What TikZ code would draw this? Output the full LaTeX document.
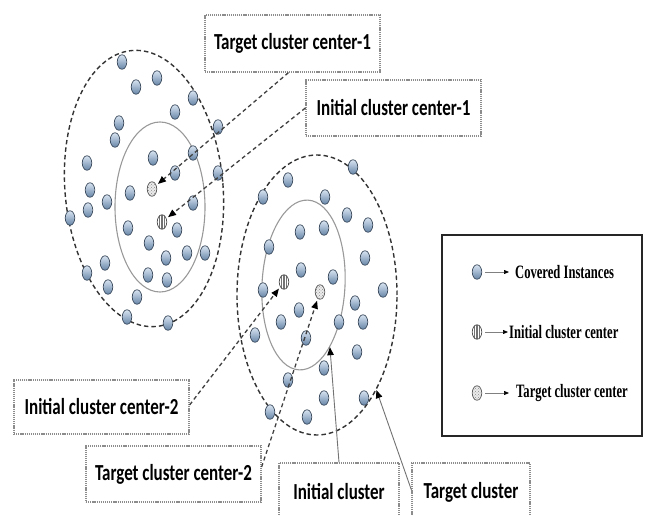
\documentclass[tikz,border=0pt]{standalone}
\usepackage{fontspec}
\usepackage{graphicx}
\setmainfont{Carlito}
\newfontfamily\legendfont{Liberation Serif}
\usetikzlibrary{shapes.geometric,arrows.meta,patterns}

\definecolor{dotline}{HTML}{3B4A5C}
\definecolor{dottop}{HTML}{D8E4F1}
\definecolor{dotbot}{HTML}{6685A8}

% labels are set a little taller than wide
\newcommand\tallword[1]{\scalebox{1}[1.35]{#1}}
\newcommand\legword[1]{\scalebox{1}[1.5]{#1}}

\tikzset{
  x=1pt, y=-1pt,
  marker/.style={ellipse, inner sep=0pt, minimum width=9.5pt, minimum height=14.5pt, line width=0.7pt},
  inst/.style={marker, draw=dotline, top color=dottop, bottom color=dotbot},
  initc/.style={marker, draw=black!70, fill=white,
    path picture={\foreach \k in {-2.2,0,2.2}{\draw[black!55,line width=1.1pt]
      ([xshift=\k pt]path picture bounding box.north) -- ([xshift=\k pt]path picture bounding box.south);}}},
  targc/.style={marker, draw=black!65, fill=black!8,
    path picture={\fill[pattern=crosshatch dots, pattern color=black!45]
      (path picture bounding box.south west) rectangle (path picture bounding box.north east);}},
  outer/.style={ellipse, inner sep=0pt, draw=black!80, line width=1.4pt, dash pattern=on 4.5pt off 3pt},
  inner/.style={ellipse, inner sep=0pt, draw=black!40, line width=1.1pt},
  lbl/.style={draw=black!45, line width=1.2pt, dash pattern=on 1.2pt off 0.9pt, fill=white,
    inner sep=0pt, minimum width=175pt, font=\bfseries\fontsize{17}{20}\selectfont},
  tip/.style={-{Triangle[length=8pt,width=6.5pt,color=black]}},
  lead/.style={tip, draw=black!75, line width=1.3pt, dash pattern=on 4pt off 3pt, shorten >=2pt},
  leadsolid/.style={tip, draw=black!55, line width=0.9pt},
  legtxt/.style={anchor=west, inner sep=0pt, font=\legendfont\bfseries\fontsize{12.6}{14}\selectfont},
  legarrow/.style={draw=black!50, line width=0.7pt, -{Triangle[length=5pt,width=4pt,color=black]}, shorten >=1pt}
}

\begin{document}
\begin{tikzpicture}
\useasboundingbox (0,0) rectangle (651,516);

% cluster boundaries
\node[outer, minimum width=158pt, minimum height=277pt, rotate=5] (outer1) at (144,188.5) {};
\node[inner, minimum width=90pt, minimum height=170pt] (inner1) at (160,207) {};
\node[outer, minimum width=160pt, minimum height=280pt] (outer2) at (317,295) {};
\node[inner, minimum width=83pt, minimum height=170pt, rotate=-3] (inner2) at (303.5,285) {};

% covered instances of the first cluster
\foreach \px/\py [count=\i] in {122/62, 157/78, 136/87, 193/98, 175/112, 119/123, 115/140, 218/127,
  153/158, 193/153, 87/163, 175/173, 218/173, 90/190, 130/193, 107/202, 88/210, 193/203,
  70/218, 128/228, 177/230, 149/243, 187/253, 205/253, 166/258, 105/263, 87/273, 148/275,
  167/280, 108/287, 137/297, 127/317, 168/323}
  \node[inst] (a\i) at (\px,\py) {};

% covered instances of the second cluster
\foreach \px/\py [count=\i] in {353/167, 288/180, 263/197, 325/197, 347/215, 368/225, 300/232, 324/228,
  269/247, 365/258, 301/270, 333/277, 383/290, 263/290, 299/310, 355/303, 281/322, 339/322,
  363/322, 255/335, 306/338, 357/352, 324/368, 288/380, 324/398, 364/398, 270/412, 307/417}
  \node[inst] (b\i) at (\px,\py) {};

% cluster centres
\node[targc] (t1) at (152,189) {};
\node[initc] (i1) at (162,222) {};
\node[initc] (i2) at (284,282) {};
\node[targc] (t2) at (320,292) {};

% labels
\node[lbl, minimum height=57pt] (tc1) at (292.5,43.5) {\tallword{Target cluster center-1}};
\node[lbl, minimum height=56pt] (ic1) at (393.5,108) {\tallword{Initial cluster center-1}};
\node[lbl, minimum height=54pt] (ic2) at (101.5,407) {\tallword{Initial cluster center-2}};
\node[lbl, minimum height=56pt] (tc2) at (173.5,474) {\tallword{Target cluster center-2}};
\node[lbl, minimum width=120pt, minimum height=58pt] (icl) at (339,492) {\tallword{Initial cluster}};
\node[lbl, minimum width=118pt, minimum height=58pt] (tcl) at (471,492) {\tallword{Target cluster}};

% leaders
\draw[lead] ([xshift=-4pt]tc1.south) -- (t1);
\draw[lead] (ic1.west) -- (i1);
\draw[lead] ([yshift=2pt]ic2.east) -- (i2);
\draw[lead] ([yshift=7pt]tc2.east) -- (t2);
\draw[leadsolid] (icl.north) -- (inner2.-64);
\draw[leadsolid] ([yshift=2pt]tcl.west) -- (outer2.-58);

% legend
\node[draw=black!85, line width=1.4pt, minimum width=200pt, minimum height=201pt, inner sep=0pt] (legend) at (542,335.5) {};
\node[inst] (lg1) at (477,272) {};
\node[initc] (lg2) at (477,332) {};
\node[targc] (lg3) at (477,393) {};
\node[legtxt] (lt1) at (515,272) {\legword{Covered Instances}};
\node[legtxt] (lt2) at (509,332) {\legword{Initial cluster center}};
\node[legtxt] (lt3) at (516,393) {\legword{Target cluster center}};
\draw[legarrow] ([xshift=3pt]lg1.east) -- ([xshift=-5pt]lt1.west);
\draw[legarrow] ([xshift=3pt]lg2.east) -- (lt2.west);
\draw[legarrow] ([xshift=3pt]lg3.east) -- ([xshift=-6pt]lt3.west);
\end{tikzpicture}
\end{document}
